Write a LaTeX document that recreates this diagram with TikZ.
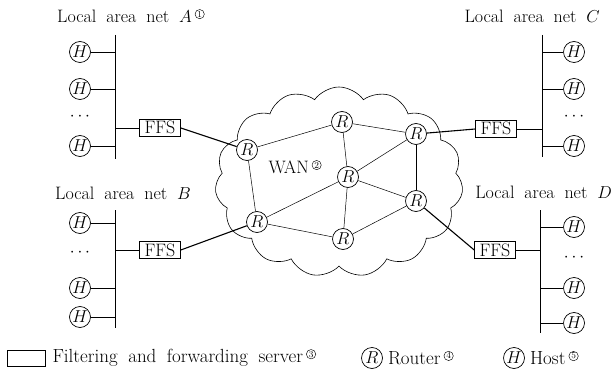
\documentclass[tikz,border=0pt]{standalone}
\usepackage{fontspec}
\usetikzlibrary{positioning,shapes.symbols}
\newcommand{\cnote}[1]{\,\raisebox{0.7ex}{\tikz[baseline=(cn.base)]
  \node[draw, circle, inner sep=0.6pt, minimum size=0pt, line width=0.45pt, font=\fontsize{9}{9}\selectfont] (cn) {#1};}}

\begin{document}
\begin{tikzpicture}[
  x=1pt, y=-1pt,
  every node/.style={font=\fontsize{18}{21}\selectfont},
  lanlabel/.style={inner sep=0pt, execute at begin node={\spaceskip=0.55em plus 0.1em\relax}},
  legtext/.style={lanlabel, font=\fontsize{19}{22}\selectfont},
  host/.style={draw, circle, inner sep=0pt, minimum size=21pt, line width=0.7pt},
  router/.style={host},
  ffs/.style={draw, line width=0.7pt, inner xsep=5pt, inner ysep=2.5pt, text height=12pt, text depth=0pt},
  bus/.style={line width=0.9pt},
  stub/.style={line width=0.7pt},
  wan/.style={line width=0.5pt},
  uplink/.style={line width=1.1pt}
]
\useasboundingbox (0,0) rectangle (612,374);

% wide area network with its routers
\node[draw, cloud, cloud puffs=15, cloud puff arc=110, cloud ignores aspect,
  minimum width=248pt, minimum height=190pt, line width=0.6pt] (wan) at (339,182) {};
\node (wanlbl) at (295,167) {WAN\cnote{2}};
\node[router] (r1) at (247,150) {$R$};
\node[router] (r2) at (342,122) {$R$};
\node[router] (r3) at (416,134) {$R$};
\node[router] (r4) at (348,177) {$R$};
\node[router] (r5) at (416,201) {$R$};
\node[router] (r6) at (257,222) {$R$};
\node[router] (r7) at (343,239) {$R$};
\foreach \a/\b in {r1/r2, r1/r6, r2/r3, r2/r4, r4/r3, r4/r6, r4/r5, r4/r7, r6/r7, r7/r5}
  \draw[wan] (\a) -- (\b);
\draw[bus] (r3) -- (r5);

% local area net A
\coordinate (busA) at (115,35);
\draw[bus] (busA) -- (115,159);
\node[host] (hA1) at (80,52) {$H$};
\node[host] (hA2) at (80,89) {$H$};
\node (dotsA) at (80,117) {$\cdots$};
\node[host] (hA3) at (80,146) {$H$};
\node[ffs] (ffsA) at (160,128) {FFS};
\foreach \h in {hA1,hA2,hA3,ffsA}
  \draw[stub] (\h) -- (\h -| busA);
\draw[uplink] (ffsA.east) -- (r1);
\node[lanlabel, anchor=west] (lblA) at (57,16) {Local area net $A$\cnote{1}};

% local area net B
\coordinate (busB) at (115,210);
\draw[bus] (busB) -- (115,328);
\node[host] (hB1) at (80,223) {$H$};
\node (dotsB) at (80,253) {$\cdots$};
\node[host] (hB2) at (80,288) {$H$};
\node[host] (hB3) at (80,317) {$H$};
\node[ffs] (ffsB) at (160,250) {FFS};
\foreach \h in {hB1,hB2,hB3,ffsB}
  \draw[stub] (\h) -- (\h -| busB);
\draw[uplink] (ffsB.east) -- (r6);
\node[lanlabel, anchor=west] (lblB) at (55,193) {Local area net $B$};

% local area net C
\coordinate (busC) at (542,35);
\draw[bus] (busC) -- (542,157);
\node[host] (hC1) at (574,52) {$H$};
\node[host] (hC2) at (574,89) {$H$};
\node (dotsC) at (574,117) {$\cdots$};
\node[host] (hC3) at (574,146) {$H$};
\node[ffs] (ffsC) at (496,129) {FFS};
\foreach \h in {hC1,hC2,hC3,ffsC}
  \draw[stub] (\h) -- (\h -| busC);
\draw[uplink] (ffsC.west) -- (r3);
\node[lanlabel, anchor=east] (lblC) at (600,16) {Local area net $C$};

% local area net D
\coordinate (busD) at (540,210);
\draw[bus] (busD) -- (540,333);
\node[host] (hD1) at (574,227) {$H$};
\node (dotsD) at (574,258) {$\cdots$};
\node[host] (hD2) at (574,288) {$H$};
\node[host] (hD3) at (574,323) {$H$};
\node[ffs] (ffsD) at (495,250) {FFS};
\foreach \h in {hD1,hD2,hD3,ffsD}
  \draw[stub] (\h) -- (\h -| busD);
\draw[uplink] (ffsD.west) -- (r5);
\node[lanlabel, anchor=east] (lblD) at (612,192) {Local area net $D$};

% legend
\node[draw, minimum width=38pt, minimum height=16pt, line width=0.7pt] (legbox) at (26,358) {};
\node[legtext, right=7pt of legbox] (legtxt) {Filtering and forwarding server\cnote{3}};
\node[router] (legR) at (372,358) {$R$};
\node[legtext, right=5pt of legR] (legRtxt) {Router\cnote{4}};
\node[host] (legH) at (514,358) {$H$};
\node[legtext, right=5pt of legH] (legHtxt) {Host\cnote{5}};
\end{tikzpicture}
\end{document}
